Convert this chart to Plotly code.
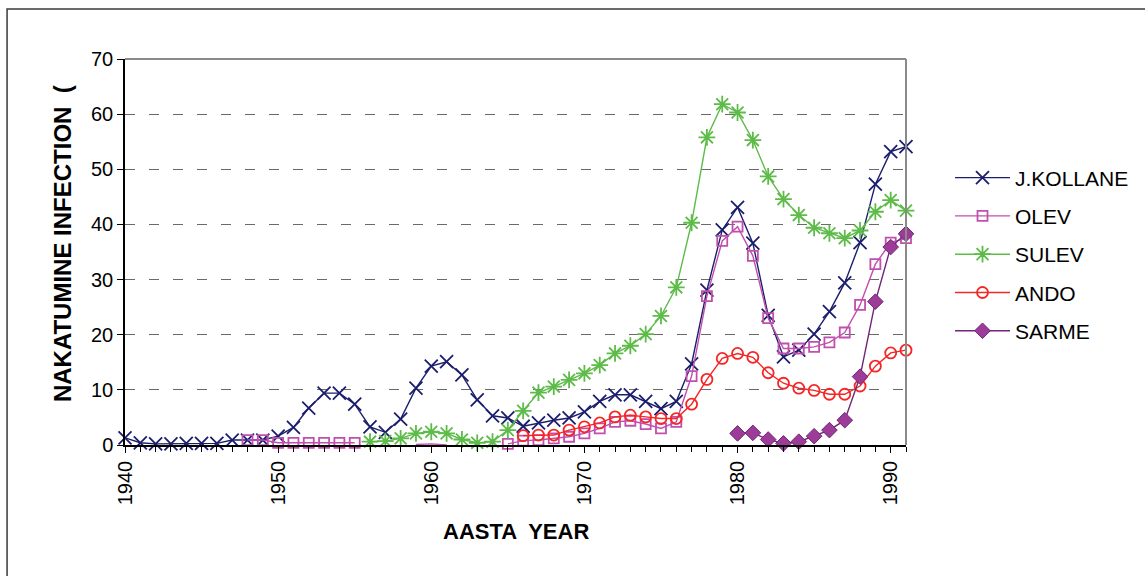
import plotly.graph_objects as go

N = None
years = list(range(1940, 1992))

j_kollane = [
    1.3, 0.4, 0.2, 0.2, 0.3, 0.3, 0.3, 0.9, 0.9, 0.9,        # 1940-1949
    1.6, 3.2, 6.7, 9.4, 9.4, 7.4, 3.3, 2.3, 4.7, 10.3,       # 1950-1959
    14.3, 15.1, 12.7, 8.2, 5.3, 4.9, 3.4, 4.0, 4.5, 4.9,     # 1960-1969
    6.0, 7.9, 9.1, 9.1, 7.9, 6.6, 7.9, 14.7, 28.1, 39.0,     # 1970-1979
    43.1, 36.6, 23.5, 16.0, 17.2, 20.1, 24.2, 29.4, 36.7, 47.3,  # 1980-1989
    53.2, 54.1,                                              # 1990-1991
]
olev = [
    N, N, N, N, N, N, N, N, 0.9, 0.9,
    0.4, 0.4, 0.4, 0.4, 0.4, 0.4, N, N, N, N,
    N, N, N, N, N, 0.2, 0.8, 0.9, 1.2, 1.5,
    2.1, 3.0, 4.2, 4.4, 3.8, 3.0, 4.2, 12.5, 27.0, 37.0,
    39.6, 34.3, 23.0, 17.5, 17.5, 17.8, 18.6, 20.4, 25.4, 32.8,
    36.7, 37.5,
]
# short OLEV stretch lying on the axis, drawn as a bare line
olev_low_years = [1959, 1960, 1961]
olev_low = [0.1, 0.2, 0.0]
sulev = [
    N, N, N, N, N, N, N, N, N, N,
    N, N, N, N, N, N, 0.6, 0.7, 1.2, 2.1,
    2.4, 2.1, 1.0, 0.4, 0.6, 2.7, 6.2, 9.5, 10.6, 11.8,
    13.0, 14.5, 16.6, 18.0, 20.1, 23.4, 28.6, 40.3, 55.8, 61.8,
    60.3, 55.3, 48.7, 44.6, 41.7, 39.4, 38.4, 37.5, 38.9, 42.3,
    44.4, 42.5,
]
ando = [
    N, N, N, N, N, N, N, N, N, N,
    N, N, N, N, N, N, N, N, N, N,
    N, N, N, N, N, N, 1.7, 1.8, 1.8, 2.7,
    3.3, 4.0, 5.1, 5.4, 5.1, 4.8, 4.8, 7.4, 11.9, 15.7,
    16.6, 15.9, 13.1, 11.2, 10.3, 9.9, 9.2, 9.2, 10.7, 14.3,
    16.7, 17.2,
]
sarme = [
    N, N, N, N, N, N, N, N, N, N,
    N, N, N, N, N, N, N, N, N, N,
    N, N, N, N, N, N, N, N, N, N,
    N, N, N, N, N, N, N, N, N, N,
    2.1, 2.2, 1.0, 0.3, 0.6, 1.6, 2.7, 4.5, 12.4, 26.0,
    35.9, 38.3,
]

x_ticks = [1940, 1950, 1960, 1970, 1980, 1990]
x_ticktext = ["1940", "1950", "1960", "1970", "1980", "1990"]
y_ticks = [0, 10, 20, 30, 40, 50, 60, 70]

FONT = "Arial, 'Liberation Sans', sans-serif"
NAVY = "#1b1e6c"
ORCHID = "#c14fae"
GREEN = "#5dbb48"
RED = "#f42626"
PURPLE = "#6f2676"
PURPLE_FILL = "#9c3c98"

fig = go.Figure()

series = [
    ("J.KOLLANE", j_kollane, NAVY, dict(symbol="x-thin-open", size=13, line=dict(width=1.8, color=NAVY))),
    ("OLEV", olev, ORCHID, dict(symbol="square-open", size=10, line=dict(width=1.8, color=ORCHID))),
    ("SULEV", sulev, GREEN, dict(symbol="asterisk-open", size=14, line=dict(width=1.8, color=GREEN))),
    ("ANDO", ando, RED, dict(symbol="circle-open", size=11, line=dict(width=1.8, color=RED))),
    ("SARME", sarme, PURPLE, dict(symbol="diamond", size=12, color=PURPLE_FILL, line=dict(width=1, color=PURPLE))),
]

for name, vals, col, mk in series:
    fig.add_trace(go.Scatter(
        x=years, y=vals, name=name, mode="lines+markers",
        line=dict(color=col, width=1.4), marker=mk,
        legendgroup=name, cliponaxis=False,
    ))
    if name == "OLEV":
        fig.add_trace(go.Scatter(
            x=olev_low_years, y=olev_low, mode="lines", showlegend=False,
            line=dict(color=ORCHID, width=1.4), legendgroup=name,
        ))

fig.update_layout(
    width=1145, height=576,
    margin=dict(l=125, r=238, t=59, b=131, pad=0),
    paper_bgcolor="white", plot_bgcolor="white",
    font=dict(family=FONT, size=20, color="black"),
    showlegend=True,
    legend=dict(
        x=1.055, y=0.745, xanchor="left", yanchor="top",
        traceorder="grouped", tracegroupgap=8, itemwidth=55,
        font=dict(family=FONT, size=21, color="black"),
        bgcolor="rgba(0,0,0,0)",
    ),
    xaxis=dict(
        range=[1940, 1991], tickmode="array", tickvals=x_ticks, ticktext=x_ticktext,
        tickangle=-90, ticks="outside", ticklen=6, tickwidth=1, tickcolor="black",
        showline=True, linecolor="black", linewidth=1.5,
        showgrid=False, zeroline=False,
        minor=dict(dtick=1, tick0=1940, ticks="outside", ticklen=5, tickcolor="black", showgrid=False),
        tickfont=dict(family=FONT, size=20),
    ),
    yaxis=dict(
        range=[0, 70], tickmode="array", tickvals=y_ticks,
        ticks="outside", ticklen=6, tickwidth=1, tickcolor="black",
        showline=True, linecolor="black", linewidth=1.5,
        showgrid=True, gridcolor="#6a6a6a", gridwidth=1, griddash="10px,14px",
        zeroline=False, tickfont=dict(family=FONT, size=20),
    ),
    shapes=[
        # outer chart frame
        dict(type="rect", xref="paper", yref="paper",
             x0=-0.151, x1=1.32, y0=-0.36, y1=1.1295,
             line=dict(color="#3a3a3a", width=1.5), layer="below"),
        # plot area border (top and right)
        dict(type="line", xref="paper", yref="paper", x0=0, x1=1, y0=1, y1=1,
             line=dict(color="#8a8a8a", width=2)),
        dict(type="line", xref="paper", yref="paper", x0=1, x1=1, y0=0, y1=1,
             line=dict(color="#8a8a8a", width=2)),
    ],
    annotations=[
        dict(text="<b>AASTA  YEAR</b>", xref="paper", yref="paper",
             x=0.5, y=-0.225, xanchor="center", yanchor="middle", showarrow=False,
             font=dict(family=FONT, size=22, color="black")),
        dict(text="<b>NAKATUMINE INFECTION  (</b>", xref="paper", yref="paper",
             x=-0.08, y=0.106, xanchor="center", yanchor="bottom", textangle=-90,
             showarrow=False, font=dict(family=FONT, size=24, color="black")),
    ],
)

fig.write_html("out.html")
